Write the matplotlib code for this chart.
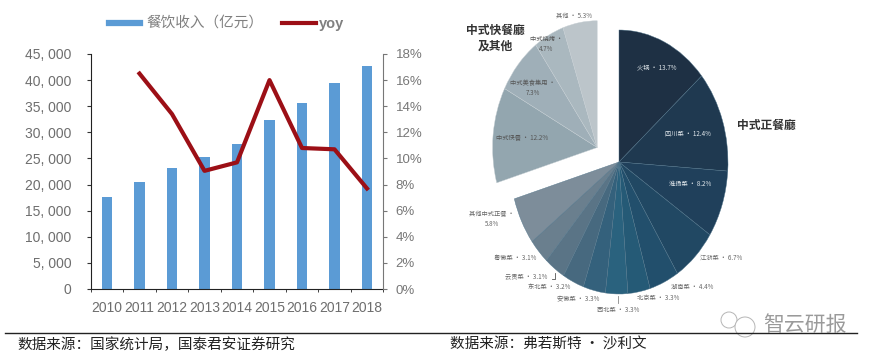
import matplotlib
matplotlib.use('Agg')
import matplotlib.pyplot as plt
from matplotlib.patches import Circle

plt.rcParams['font.family'] = ['Noto Sans CJK SC', 'DejaVu Sans']

W, H = 875, 364

years = ['2010', '2011', '2012', '2013', '2014', '2015', '2016', '2017', '2018']
revenue = [17600, 20400, 23250, 25300, 27750, 32350, 35700, 39500, 42700]
yoy_years = [1, 2, 3, 4, 5, 6, 7, 8]
yoy = [16.5, 13.4, 9.05, 9.7, 16.0, 10.8, 10.7, 7.7]
rev_ticks = [0, 5000, 10000, 15000, 20000, 25000, 30000, 35000, 40000, 45000]
pct_ticks = [0, 2, 4, 6, 8, 10, 12, 14, 16, 18]

main_names = ['火锅', '四川菜', '淮扬菜', '江浙菜', '湖南菜', '北京菜', '西北菜',
              '安徽菜', '东北菜', '云贵菜', '粤徽菜', '其他中式正餐']
main_vals = [13.7, 12.4, 8.2, 6.7, 4.4, 3.3, 3.3, 3.3, 3.2, 3.1, 3.1, 5.8]
main_cols = ['#1e3044', '#1f3950', '#20405b', '#214863', '#224f6c', '#255a76', '#2a627e',
             '#34617c', '#47697f', '#5a7486', '#6a7f8e', '#7d8d9a']
fast_names = ['中式快餐', '中式美食集用', '中式烧烤', '其他']
fast_vals = [12.2, 7.3, 4.7, 5.3]
fast_cols = ['#93a6af', '#9fafb8', '#aab8bf', '#bcc5ca']


def px(x, y):
    return x / W, 1 - y / H


fig = plt.figure(figsize=(8.75, 3.64), dpi=100)

# left chart
ax = fig.add_axes([90.75 / W, 1 - 289 / H, 292.5 / W, 235 / H])
ax.bar(range(9), revenue, width=0.31, color='#5b9bd5')
ax.set_xlim(-0.5, 8.5)
ax.set_ylim(0, 45000)
ax.set_yticks(rev_ticks)
ax.set_yticklabels(['0'] + ['{:,}'.format(v).replace(',', ', ') for v in rev_ticks[1:]])
ax.set_xticks(range(9))
ax.set_xticklabels(years)
ax.set_xticks([i - 0.5 for i in range(10)], minor=True)
ax.tick_params(axis='y', labelsize=10, labelcolor='#6e6e6e', length=3, pad=11, color='#333333',
               labelfontfamily='Liberation Sans')
ax.tick_params(axis='x', which='major', labelsize=10, labelcolor='#6e6e6e', length=0, pad=9,
               labelfontfamily='Liberation Sans')
ax.tick_params(axis='x', which='minor', length=2, color='#222222')
ax.spines['top'].set_visible(False)
ax.spines['right'].set_visible(False)
ax.spines['left'].set_color('#222222')
ax.spines['bottom'].set_color('#222222')

ax2 = ax.twinx()
ax2.plot(yoy_years, yoy, color='#9c0f16', lw=3)
ax2.set_ylim(0, 18)
ax2.set_yticks(pct_ticks)
ax2.set_yticklabels(['%d%%' % p for p in pct_ticks])
ax2.tick_params(axis='y', labelsize=9.5, labelcolor='#777777', length=3, color='#777777', pad=6,
                labelfontfamily='Liberation Sans')
ax2.spines['top'].set_visible(False)
ax2.spines['right'].set_color('#777777')
ax2.spines['left'].set_visible(False)
ax2.spines['bottom'].set_visible(False)

# legend
fig.add_artist(plt.Line2D([109 / W, 140 / W], [1 - 23 / H, 1 - 23 / H], color='#5b9bd5', lw=4.5))
fig.text(*px(146, 23), '餐饮收入（亿元）', fontsize=10.5, color='#808080', va='center')
fig.add_artist(plt.Line2D([282 / W, 316 / W], [1 - 23 / H, 1 - 23 / H], color='#9c0f16', lw=3))
fig.text(*px(319, 24), 'yoy', fontsize=10.5, fontweight='bold', color='#808080', va='center',
         family='Liberation Sans')

# pie, stretched: 1 unit = 109 px wide, 132 px high
cx, cy, rx, ry = 619, 162, 109, 132
pie = fig.add_axes([(cx - 1.5 * rx) / W, 1 - (cy + 1.3 * ry) / H, 3 * rx / W, 2.6 * ry / H])
pie.pie([v / 100 for v in main_vals], colors=main_cols, startangle=90, counterclock=False,
        normalize=False, radius=1, wedgeprops={'lw': 0.3, 'edgecolor': '#4f7389'})
pie.pie([v / 100 for v in fast_vals], colors=fast_cols, counterclock=False, normalize=False,
        startangle=90 - sum(main_vals) * 3.6, radius=0.96, center=(-0.2, 0.11),
        wedgeprops={'lw': 0.3, 'edgecolor': '#c5ced3'})
pie.set_aspect('auto')
pie.set_xlim(-1.5, 1.5)
pie.set_ylim(-1.3, 1.3)
pie.axis('off')

# pie labels, placed by hand
main_pos = [(657, 67, 'w'), (688, 134, 'w'), (690, 184, 'w'), (721, 258, 'g'), (692, 287, 'g'),
            (658, 298, 'g'), (618, 310, 'g'), (578, 299, 'g'), (549, 287, 'g'), (526, 276, 'g'),
            (515, 258, 'g')]
for (x, y, c), n, v in zip(main_pos, main_names, main_vals):
    fig.text(*px(x, y), '%s · %.1f%%' % (n, v), fontsize=4.5, ha='center', va='center',
             color='#e4eaee' if c == 'w' else '#666666')
fig.text(*px(492, 219), '其他中式正餐 ·\n5.8%', fontsize=4.5, ha='center', va='center', color='#666666')
fig.text(*px(522, 137), '中式快餐 · 12.2%', fontsize=4.5, ha='center', va='center', color='#555555')
fig.text(*px(533, 88), '中式美食集用 ·\n7.3%', fontsize=4.5, ha='center', va='center', color='#555555')
fig.text(*px(546, 44), '中式烧烤 ·\n4.7%', fontsize=4.5, ha='center', va='center', color='#555555')
fig.text(*px(574, 16), '其他 · 5.3%', fontsize=4.5, ha='center', va='center', color='#666666')
fig.text(*px(495, 38), '中式快餐廳\n及其他', fontsize=8.5, fontweight='bold', ha='center', va='center',
         color='#333333', linespacing=1.25)
fig.text(*px(766, 125), '中式正餐廳', fontsize=8.5, fontweight='bold', ha='center', va='center',
         color='#333333')

# footer
fig.add_artist(plt.Line2D([5 / W, 857 / W], [1 - 332.5 / H, 1 - 332.5 / H], color='#222222', lw=1))
fig.text(*px(17, 345), '数据来源：国家统计局，国泰君安证券研究', fontsize=10.5, color='#222222', va='center')
fig.text(*px(450, 345), '数据来源：弗若斯特 · 沙利文', fontsize=10.5, color='#222222', va='center')

# watermark and leader lines
fig.text(*px(763, 325), '智云研报', fontsize=15, color='#9a9a9a', va='center')
wm = fig.add_axes([0, 0, 1, 1], facecolor='none')
wm.set_xlim(0, W)
wm.set_ylim(H, 0)
wm.axis('off')
wm.add_patch(Circle((729, 320), 8, fill=False, ec='#b5b5b5', lw=0.7))
wm.add_patch(Circle((745, 327), 10, fc='white', ec='#b5b5b5', lw=0.7, zorder=3))
wm.plot([555, 555, 552], [273, 279, 279], color='#555555', lw=0.6)
wm.plot([618, 618], [296, 303], color='#888888', lw=0.6)

fig.savefig('out.png', dpi=100)
